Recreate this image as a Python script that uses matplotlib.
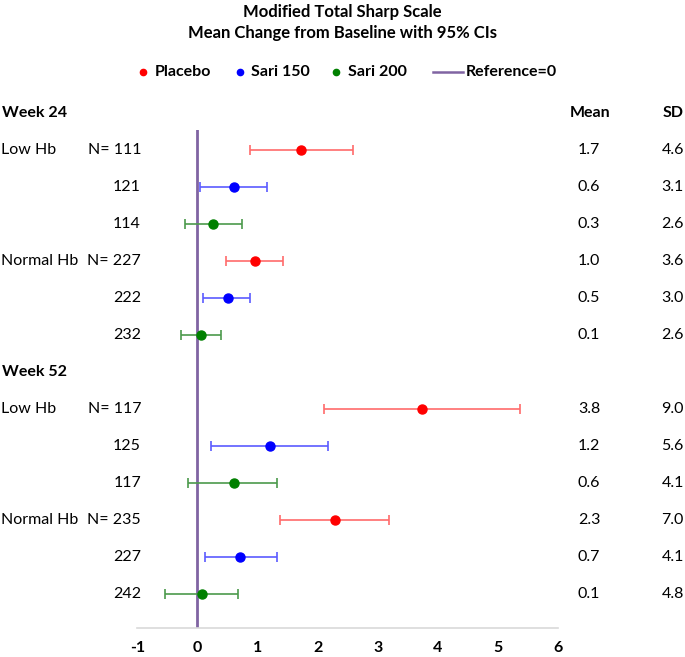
import matplotlib
matplotlib.use("Agg")
import matplotlib.pyplot as plt
from matplotlib.lines import Line2D
from matplotlib.transforms import blended_transform_factory

plt.rcParams["font.family"] = ["Lato", "DejaVu Sans"]

# data
weeks = ["Week 24", "Week 52"]
groups = ["Low Hb", "", "", "Normal Hb", "", ""] * 2
n_labels = ["N= 111", "121", "114", "N= 227", "222", "232",
            "N= 117", "125", "117", "N= 235", "227", "242"]
treatments = ["Placebo", "Sari 150", "Sari 200"]
treat_idx = [0, 1, 2] * 4
est = [1.73, 0.60, 0.26, 0.96, 0.50, 0.06, 3.74, 1.20, 0.60, 2.29, 0.71, 0.08]
lo = [0.87, 0.05, -0.20, 0.48, 0.09, -0.28, 2.10, 0.22, -0.15, 1.37, 0.12, -0.54]
hi = [2.59, 1.15, 0.74, 1.43, 0.87, 0.39, 5.37, 2.17, 1.33, 3.18, 1.33, 0.68]
mean_txt = ["1.7", "0.6", "0.3", "1.0", "0.5", "0.1", "3.8", "1.2", "0.6", "2.3", "0.7", "0.1"]
sd_txt = ["4.6", "3.1", "2.6", "3.6", "3.0", "2.6", "9.0", "5.6", "4.1", "7.0", "4.1", "4.8"]
xticks = [-1, 0, 1, 2, 3, 4, 5, 6]

dot_colors = ["#ff0000", "#0000ff", "#008000"]
bar_colors = ["#ff6b6b", "#5b5bff", "#4c9a4c"]
ref_color = "#8064a2"

W, H = 685, 657
fig = plt.figure(figsize=(W / 100, H / 100), dpi=100)
ax_left, ax_right, ax_top, ax_bottom = 137.3, 558.3, 130, 628
ax = fig.add_axes([ax_left / W, 1 - ax_bottom / H,
                   (ax_right - ax_left) / W, (ax_bottom - ax_top) / H])

# row positions: header, 6 rows, header, 6 rows (37 px each)
row_pos = list(range(0, 6)) + list(range(7, 13))
header_pos = [-1, 6]
ax.set_xlim(-1, 6)
ax.set_ylim((ax_bottom - 150) / 37, (ax_top - 150) / 37)

ax.axvline(0, color=ref_color, lw=2, zorder=1)

for k, y in enumerate(row_pos):
    t = treat_idx[k]
    ax.errorbar(est[k], y, xerr=[[est[k] - lo[k]], [hi[k] - est[k]]],
                fmt="none", ecolor=bar_colors[t], elinewidth=1.2,
                capsize=3.5, capthick=1.2, zorder=2)
    ax.plot(est[k], y, "o", color=dot_colors[t], markersize=6.5, zorder=3)

for s in ["top", "left", "right"]:
    ax.spines[s].set_visible(False)
ax.spines["bottom"].set_color("#d9d9d9")
ax.spines["bottom"].set_linewidth(1.2)
ax.set_yticks([])
ax.set_xticks(xticks)
ax.set_xticklabels([str(v) for v in xticks], fontweight="bold", fontsize=11.5)
ax.tick_params(axis="x", length=0, pad=9)

# side text
tr = blended_transform_factory(fig.transFigure, ax.transData)
fs = 11.5
for w, y in zip(weeks, header_pos):
    ax.text(2 / W, y, w, transform=tr, fontsize=fs, fontweight="bold",
            ha="left", va="center", clip_on=False)
ax.text(590 / W, header_pos[0], "Mean", transform=tr, fontsize=fs,
        fontweight="bold", ha="center", va="center", clip_on=False)
ax.text(684 / W, header_pos[0], "SD", transform=tr, fontsize=fs,
        fontweight="bold", ha="right", va="center", clip_on=False)
for k, y in enumerate(row_pos):
    if groups[k]:
        ax.text(1 / W, y, groups[k], transform=tr, fontsize=fs,
                ha="left", va="center", clip_on=False)
    ax.text(141 / W, y, n_labels[k], transform=tr, fontsize=fs,
            ha="right", va="center", clip_on=False)
    ax.text(589 / W, y, mean_txt[k], transform=tr, fontsize=fs,
            ha="center", va="center", clip_on=False)
    ax.text(684 / W, y, sd_txt[k], transform=tr, fontsize=fs,
            ha="right", va="center", clip_on=False)

fig.text(0.5, 1 - 12 / H, "Modified Total Sharp Scale", fontsize=12,
         fontweight="bold", ha="center", va="center")
fig.text(0.5, 1 - 33 / H, "Mean Change from Baseline with 95% CIs",
         fontsize=12, fontweight="bold", ha="center", va="center")

# legend drawn by hand in figure pixels
ly = 1 - 72 / H
for c, dx, tx, name in zip(dot_colors, [143, 240, 336], [155, 251, 348], treatments):
    fig.add_artist(Line2D([dx / W], [ly], ls="none", marker="o", color=c,
                          markersize=4.5, transform=fig.transFigure))
    fig.text(tx / W, ly, name, fontsize=11.5, fontweight="bold",
             ha="left", va="center")
fig.add_artist(Line2D([433 / W, 463 / W], [ly, ly], color=ref_color, lw=1.8,
                      transform=fig.transFigure))
fig.text(466 / W, ly, "Reference=0", fontsize=11.5, fontweight="bold",
         ha="left", va="center")

fig.savefig("out.png", dpi=100)
